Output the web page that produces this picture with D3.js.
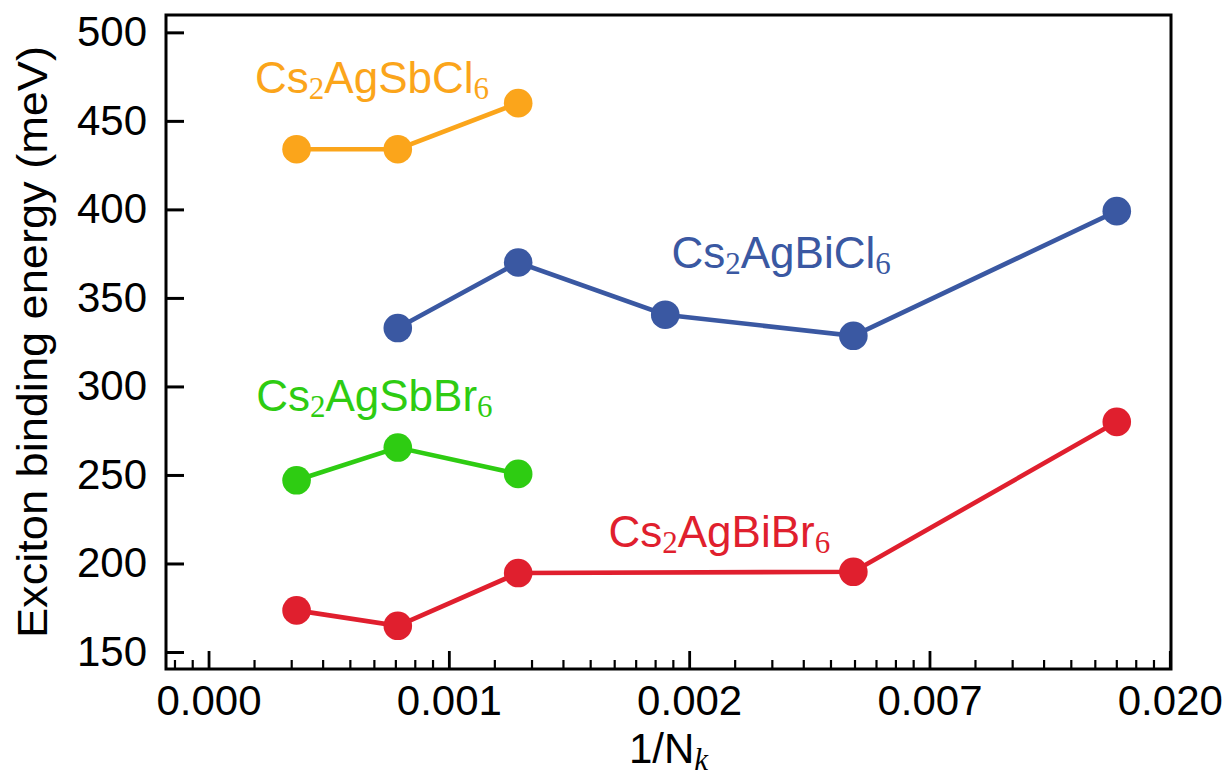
<!DOCTYPE html>
<html>
<head>
<meta charset="utf-8">
<script src="https://cdn.jsdelivr.net/npm/d3@7"></script>
<style>
    body { margin: 0; background: #fff; }
    text { font-family: "Liberation Sans", Arial, Helvetica, sans-serif; }
    .sub { font-family: "Liberation Serif", "DejaVu Serif", serif; }
</style>
</head>
<body>
<svg id="chart" width="1230" height="776"></svg>
<script>
"use strict";

// 1/N_k of each k-point grid
const kInv = [0.00024, 0.00068, 0.00118, 0.00184, 0.00475, 0.0157];

// major ticks of the x axis (first one is a hidden segment left of 0)
const xMajor = [-0.001, 0, 0.001, 0.002, 0.007, 0.020];
const xTickLabels = ['0.000', '0.001', '0.002', '0.007', '0.020'];
const yTicks = [150, 200, 250, 300, 350, 400, 450, 500];

const sbCl = [434, 434, 460];
const biCl = [333, 370, 340.5, 328.6, 399];
const sbBr = [247, 265.5, 250.6];
const biBr = [173.5, 164.8, 194.6, 195.3, 280];

const seriesNames = ['Cs2AgSbCl6', 'Cs2AgBiCl6', 'Cs2AgSbBr6', 'Cs2AgBiBr6'];
const seriesColors = ['#fba51b', '#3a58a2', '#2ecc12', '#e01f2e'];
const seriesIdx = [[0, 1, 2], [1, 2, 3, 4, 5], [0, 1, 2], [0, 1, 2, 4, 5]];
const seriesVals = [sbCl, biCl, sbBr, biBr];
// where each name starts, in data units
const labelX = [0.000114, 0.00188, 0.000117, 0.001528];
const labelY = [462.3, 363.6, 283, 206];

const margin = {top: 15, right: 59, bottom: 107, left: 166};
const width = 1230 - margin.left - margin.right;
const height = 776 - margin.top - margin.bottom;

// the axis is stretched per segment: every segment between two majors is
// split in 9 linear steps laid out on a log-like spacing
const segC = 4, segN = 9;
function toU(v) {
    let i = d3.bisectRight(xMajor, v) - 1;
    i = Math.max(0, Math.min(xMajor.length - 2, i));
    const t = (v - xMajor[i]) / (xMajor[i + 1] - xMajor[i]);
    return (i - 1) + Math.log(1 + segN * t / segC) / Math.log(1 + segN / segC);
}
const xu = d3.scaleLinear().domain([-0.177, 4.005]).range([0, width]);
const x = v => xu(toU(v));
const y = d3.scaleLinear().domain([140.4, 509.8]).range([height, 0]);

const minorVals = [];
for (let i = 0; i < xMajor.length - 1; i++) {
    for (let k = 1; k < segN; k++) minorVals.push(xMajor[i] + k * (xMajor[i + 1] - xMajor[i]) / segN);
}
const minorU = minorVals.map(toU).filter(u => u >= xu.domain()[0] && u <= xu.domain()[1]);

const svg = d3.select('#chart');
svg.append('rect').attr('width', 1230).attr('height', 776).attr('fill', '#fff');
const g = svg.append('g').attr('transform', `translate(${margin.left},${margin.top})`);

// minor x ticks
g.append('g')
    .attr('transform', `translate(0,${height})`)
    .call(d3.axisBottom(xu).tickValues(minorU).tickFormat('').tickSizeInner(-9).tickSizeOuter(0))
    .call(a => a.select('.domain').remove())
    .call(a => a.selectAll('line').attr('stroke-width', 2.2));

const xAxis = g.append('g')
    .attr('transform', `translate(0,${height})`)
    .call(d3.axisBottom(xu).tickValues(d3.range(xTickLabels.length))
        .tickFormat((d, i) => xTickLabels[i])
        .tickSizeInner(-18).tickSizeOuter(0).tickPadding(16));
xAxis.select('.domain').remove();
xAxis.selectAll('line').attr('stroke-width', 2.8);
xAxis.selectAll('text').attr('font-size', 42).attr('fill', '#000')
    .style('font-family', '"Liberation Sans", Arial, sans-serif');

const yAxis = g.append('g')
    .call(d3.axisLeft(y).tickValues(yTicks).tickSizeInner(-18).tickSizeOuter(0).tickPadding(19));
yAxis.select('.domain').remove();
yAxis.selectAll('line').attr('stroke-width', 3);
yAxis.selectAll('text').attr('font-size', 42).attr('fill', '#000')
    .style('font-family', '"Liberation Sans", Arial, sans-serif');

// frame
g.append('rect')
    .attr('width', width).attr('height', height)
    .attr('fill', 'none').attr('stroke', '#000').attr('stroke-width', 3);

const line = d3.line().x(d => x(d[0])).y(d => y(d[1]));

seriesNames.forEach((name, s) => {
    const pts = seriesIdx[s].map((k, j) => [kInv[k], seriesVals[s][j]]);
    const color = seriesColors[s];
    g.append('path')
        .datum(pts)
        .attr('d', line)
        .attr('fill', 'none')
        .attr('stroke', color)
        .attr('stroke-width', 4.6);
    g.selectAll(null)
        .data(pts)
        .enter().append('circle')
        .attr('cx', d => x(d[0]))
        .attr('cy', d => y(d[1]))
        .attr('r', 14.3)
        .attr('fill', color);

    const label = g.append('text')
        .attr('x', x(labelX[s]))
        .attr('y', y(labelY[s]))
        .attr('font-size', 44)
        .attr('fill', color);
    name.split(/(\d)/).filter(p => p).forEach(p => {
        if (/\d/.test(p)) {
            label.append('tspan').attr('class', 'sub').attr('font-size', 31).attr('dy', 6).text(p);
        } else {
            label.append('tspan').attr('dy', label.selectAll('tspan').size() ? -6 : 0).text(p);
        }
    });
});

// axis titles
const xTitle = svg.append('text')
    .attr('x', margin.left + width / 2)
    .attr('y', 763)
    .attr('text-anchor', 'middle')
    .attr('font-size', 42);
xTitle.append('tspan').text('1/N');
xTitle.append('tspan').attr('class', 'sub').attr('font-style', 'italic')
    .attr('font-size', 31).attr('dy', 7).text('k');

svg.append('text')
    .attr('transform', `translate(47,${margin.top + height / 2}) rotate(-90)`)
    .attr('text-anchor', 'middle')
    .attr('font-size', 43)
    .attr('textLength', 592)
    .attr('lengthAdjust', 'spacingAndGlyphs')
    .text('Exciton binding energy (meV)');
</script>
</body>
</html>
